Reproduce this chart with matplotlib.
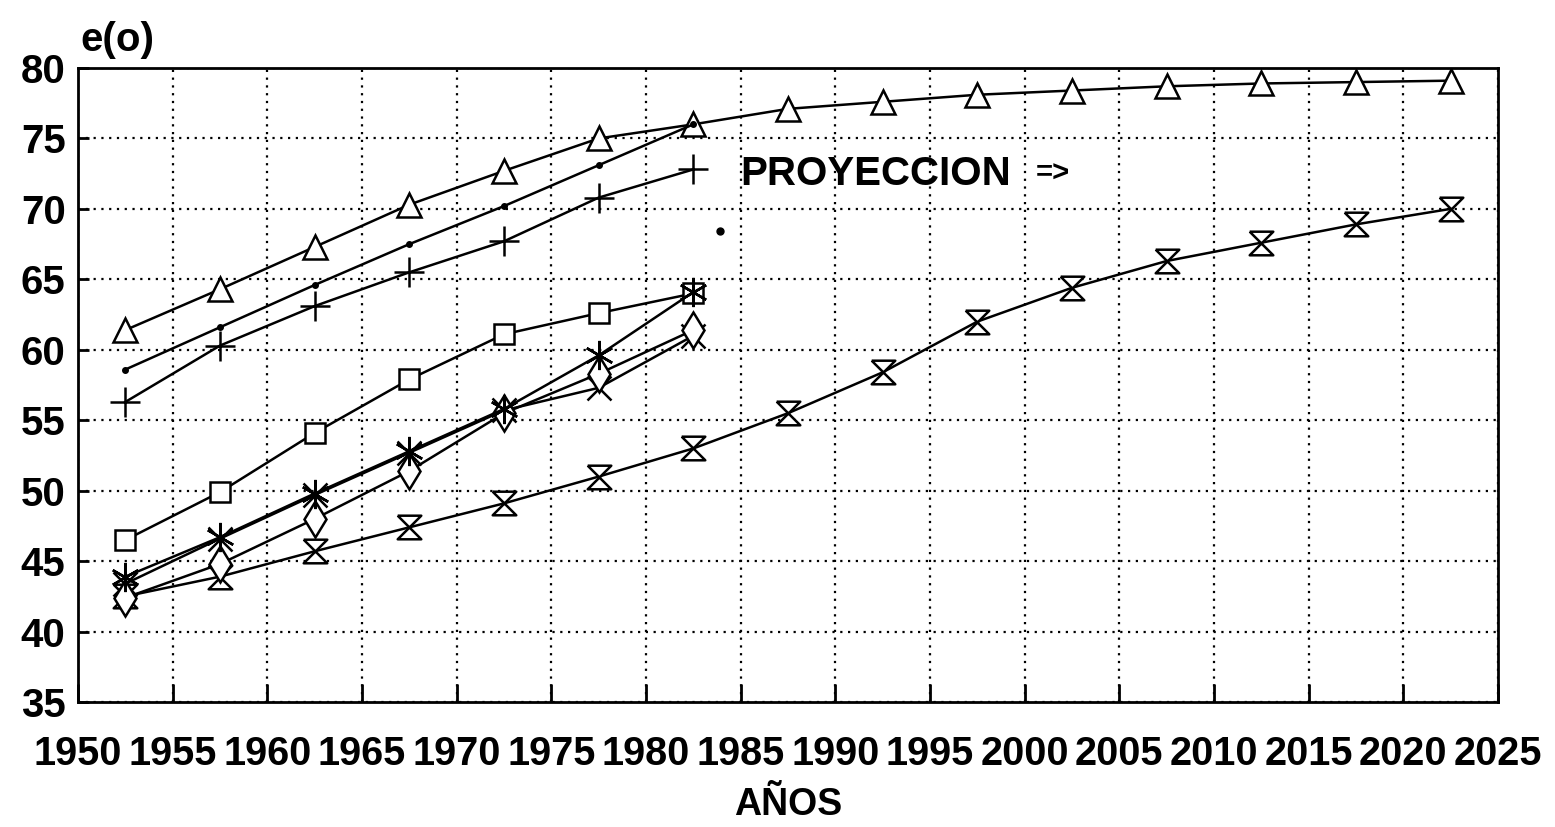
import numpy as np
import matplotlib
matplotlib.use('Agg')
import matplotlib.pyplot as plt

plt.rcParams['font.family'] = ['Liberation Sans', 'DejaVu Sans']
plt.rcParams['font.weight'] = 'bold'
plt.rcParams['axes.labelweight'] = 'bold'

# periodos quinquenales (punto medio)
anios_hist = [1952.5, 1957.5, 1962.5, 1967.5, 1972.5, 1977.5, 1982.5]
anios_proy = [1952.5, 1957.5, 1962.5, 1967.5, 1972.5, 1977.5, 1982.5,
              1987.5, 1992.5, 1997.5, 2002.5, 2007.5, 2012.5, 2017.5, 2022.5]

# esperanza de vida al nacer e(o)
e_triangulo = [61.4, 64.3, 67.3, 70.3, 72.7, 75.0, 76.0,
               77.1, 77.6, 78.1, 78.4, 78.7, 78.9, 79.0, 79.1]
e_reloj = [42.5, 43.9, 45.7, 47.4, 49.1, 51.0, 53.0,
           55.5, 58.4, 62.0, 64.4, 66.3, 67.6, 68.9, 70.0]
e_punto = [58.6, 61.6, 64.6, 67.5, 70.2, 73.1, 76.0]
e_cruz = [56.3, 60.3, 63.1, 65.5, 67.7, 70.8, 72.8]
e_cuadro = [46.5, 49.9, 54.1, 57.9, 61.1, 62.6, 64.0]
e_asterisco = [43.9, 46.7, 49.8, 52.8, 55.8, 59.6, 64.1]
e_equis = [43.4, 46.6, 49.7, 52.7, 55.7, 57.3, 61.0]
e_rombo = [42.4, 44.8, 48.0, 51.4, 55.5, 58.3, 61.4]

ticks_x = np.arange(1950, 2026, 5)
ticks_y = np.arange(35, 81, 5)

reloj = [(-1, 1), (1, 1), (-1, -1), (1, -1), (-1, 1)]

fig = plt.figure(figsize=(15.55, 8.27), dpi=100)
ax = fig.add_axes([0.0502, 0.1511, 0.9131, 0.7667])

kw = dict(color='black', lw=1.8, mfc='white', mec='black', mew=1.8)
ax.plot(anios_proy, e_triangulo, marker='^', ms=17, **kw)
ax.plot(anios_proy, e_reloj, marker=reloj, ms=17, **kw)
ax.plot(anios_hist, e_punto, marker='o', ms=4, color='black', lw=1.8)
ax.plot(anios_hist, e_cruz, marker='+', ms=22, **kw)
ax.plot(anios_hist, e_cuadro, marker='s', ms=15, **kw)
ax.plot(anios_hist, e_equis, marker='x', ms=17, **kw)
ax.plot(anios_hist, e_rombo, marker='d', ms=18, **kw)
ax.plot(anios_hist, e_asterisco, marker=(6, 2, 0), ms=21, **kw)
# punto suelto del original
ax.plot([1983.9], [68.4], marker='o', ms=5, color='black', lw=0)

ax.text(1985, 72.5, 'PROYECCION', fontsize=29, va='center', ha='left')
ax.text(2000.6, 72.5, '=>', fontsize=21, fontweight='bold', va='center', ha='left')

ax.set_xlim(1950, 2025)
ax.set_ylim(35, 80)
ax.set_xticks(ticks_x)
ax.set_yticks(ticks_y)
ax.set_xticklabels([str(t) for t in ticks_x], fontsize=28.5)
ax.set_yticklabels([str(t) for t in ticks_y], fontsize=29)
ax.tick_params(axis='x', direction='in', length=13, width=2, pad=24)
ax.tick_params(axis='y', direction='in', length=8, width=2, pad=9)
ax.grid(True, color='black', linestyle=(0, (1, 2.5)), lw=1.6)
for s in ax.spines.values():
    s.set_linewidth(2)

ax.set_xlabel('AÑOS', fontsize=27, labelpad=10)
fig.text(0.052, 0.952, 'e(o)', fontsize=29, ha='left', va='center')

fig.savefig('out.png', dpi=100)
